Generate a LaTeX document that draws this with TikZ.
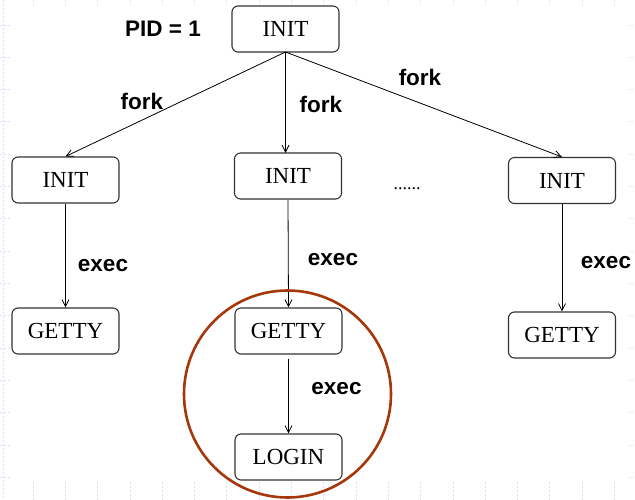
\documentclass[tikz,border=0pt]{standalone}
\usepackage{fontspec}
\setmainfont{Liberation Serif}
\newfontfamily\labelfont{Liberation Sans}
\usetikzlibrary{arrows.meta}
\definecolor{ringcol}{RGB}{165,55,10}
\definecolor{rulecol}{RGB}{218,225,248}
\begin{document}
\begin{tikzpicture}[x=1pt,y=-1pt,
  proc/.style={draw=black!80,line width=1.1pt,rounded corners=6pt,
    minimum width=107pt,minimum height=46pt,inner sep=0pt,
    font=\fontsize{23}{23}\selectfont},
  lab/.style={font=\labelfont\bfseries\fontsize{22.5}{22.5}\selectfont,inner sep=0pt},
  link/.style={line width=0.8pt,-{Straight Barb[length=7pt,width=7pt,line width=0.8pt]}},
  tick/.style={draw=rulecol,line width=0.8pt,dash pattern=on 2pt off 2pt}]
\useasboundingbox (0,0) rectangle (635,500);
\fill[white] (0,0) rectangle (635,500);

% faint ruler marks along the page edges
\draw[tick] (3,0) -- (3,500);
\foreach \k in {0,...,15} {
  \draw[tick] (0,{25+32.3*\k}) -- (10,{25+32.3*\k});
  \draw[tick] (633,{25+32.3*\k}) -- (628,{25+32.3*\k});
}
\foreach \k in {0,...,18} {
  \draw[tick] ({33+32.3*\k},0) -- ({33+32.3*\k},5);
  \draw[tick] ({33+32.3*\k},482) -- ({33+32.3*\k},500);
}

% process boxes
\node[proc] (root) at (285.5,29) {INIT};
\node[proc] (initA) at (65.5,180) {INIT};
\node[proc] (initB) at (288,176) {INIT};
\node[proc] (initC) at (562,180.5) {INIT};
\node[proc] (gettyA) at (65.5,331) {GETTY};
\node[proc] (gettyB) at (288.5,331) {GETTY};
\node[proc] (gettyC) at (562,335) {GETTY};
\node[proc] (login) at (288.5,457) {LOGIN};

\node[lab] (pid) at (163,29) {PID = 1};
\node[font=\fontsize{18}{18}\selectfont,inner sep=0pt] (dots) at (407,189) {......};

% fork edges from the root
\coordinate (src) at (285.5,52);
\draw[link] (src) -- (initA.north);
\draw[link] (src) -- (285.5,153);
\draw[link] (src) -- (initC.north);
\node[lab] (forkA) at (142,101) {fork};
\node[lab] (forkB) at (321,104) {fork};
\node[lab] (forkC) at (420,77) {fork};

% exec edges
\draw[link] (initA.south) -- (gettyA.north);
\draw[link] (initB.south) -- (gettyB.north);
\draw[link] (initC.south) -- (gettyC.north);
\draw[link] (gettyB.south) ++(0,4) -- (login.north);
\node[lab] (execA) at (103,266) {exec};
\node[lab] (execB) at (333,260) {exec};
\node[lab] (execC) at (606,263) {exec};
\node[lab] (execD) at (336.5,389) {exec};

% highlighted login chain
\draw[ringcol,line width=2.6pt] (287.5,394) circle [radius=103.5];
\end{tikzpicture}
\end{document}
